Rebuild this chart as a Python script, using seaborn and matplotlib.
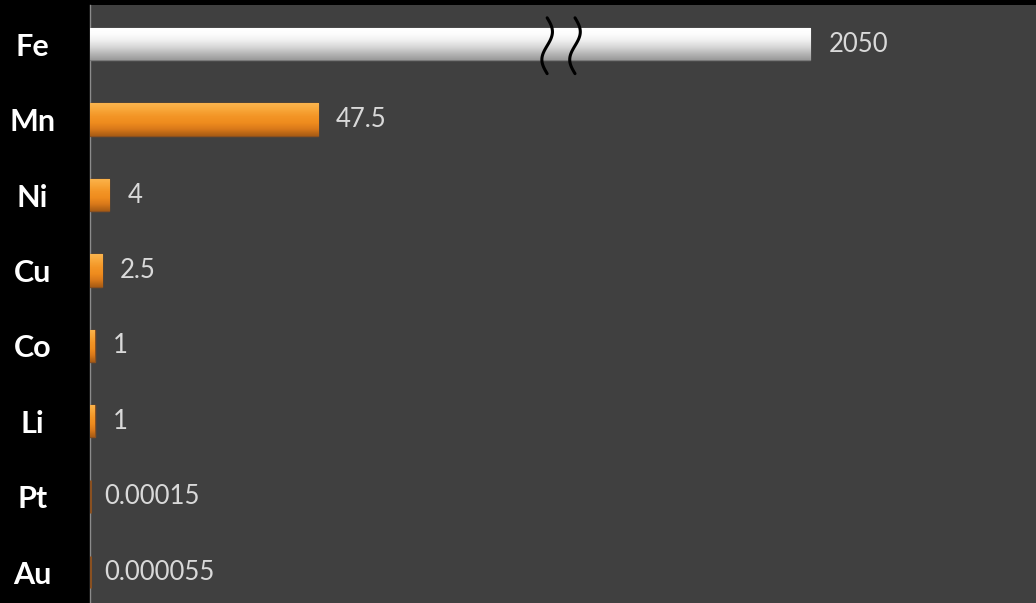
import numpy as np
import pandas as pd
import matplotlib
matplotlib.use("Agg")
import matplotlib.pyplot as plt
import seaborn as sns
from matplotlib.colors import LinearSegmentedColormap

# ---- data ----
elements = ["Fe", "Mn", "Ni", "Cu", "Co", "Li", "Pt", "Au"]
values = [2050, 47.5, 4, 2.5, 1, 1, 0.00015, 0.000055]
value_labels = ["2050", "47.5", "4", "2.5", "1", "1", "0.00015", "0.000055"]

# ---- style ----
BREAK_CAP = 150          # Fe bar is drawn with an axis break
XMAX = 197
BG = "#404040"
sns.set_theme(style="white")
plt.rcParams["font.family"] = ["Lato", "DejaVu Sans"]

disp = [min(v, BREAK_CAP) for v in values]
df = pd.DataFrame({"element": elements, "display": disp})
palette = {e: ("#f2f2f2" if e == "Fe" else "#f39323") for e in elements}

fig = plt.figure(figsize=(10.36, 6.03), dpi=100, facecolor="black")
ax = fig.add_axes([90 / 1036, 0, 1 - 90 / 1036, 598 / 603])
ax.set_facecolor(BG)

sns.barplot(data=df, y="element", x="display", hue="element", palette=palette,
            orient="h", width=0.43, legend=False, ax=ax, saturation=1)

# gradient fills
white_grad = ["#ffffff", "#fdfdfd", "#f0f0f0", "#d8d8d8", "#b8b8b8", "#9a9a9a"]
orange_grad = ["#fbb44e", "#f8a638", "#f39526", "#ef8c1e", "#d8781a", "#a85c14"]
for el, patch in zip(elements, ax.patches):
    x0, y0 = patch.get_x(), patch.get_y()
    w, h = patch.get_width(), patch.get_height()
    if el == "Fe":
        cols = white_grad
        patch.set_edgecolor("#7a7a7a")
        patch.set_linewidth(1.0)
    else:
        cols = orange_grad
        patch.set_edgecolor("#8a5020")
        patch.set_linewidth(1.0 if w > 0.1 else 2.2)
    patch.set_zorder(3)
    if w > 0.1:
        cmap = LinearSegmentedColormap.from_list("g", cols)
        grad = np.linspace(0, 1, 64).reshape(-1, 1)
        im = ax.imshow(grad, cmap=cmap, aspect="auto", origin="upper",
                       extent=(x0, x0 + w, y0 + h, y0), interpolation="bicubic",
                       zorder=3.1)
        im.set_clip_path(patch)

# value labels
for i, (d, lab) in enumerate(zip(disp, value_labels)):
    off = 13 if d > 0.1 else 10
    ax.annotate(lab, xy=(d, i), xytext=(off, 0), textcoords="offset points",
                ha="left", va="center", fontsize=18.5, color="#d9d9d9")

# axis break marks on Fe bar
t = np.linspace(0, 1, 100)
yy = -0.35 + 0.74 * t
for xb in (95.2, 101.0):
    ax.plot(xb + 1.1 * np.sin(2 * np.pi * t), yy, color="black", lw=2.2,
            zorder=10, solid_capstyle="round")

ax.set_xlim(0, XMAX)
ax.set_ylim(7.41, -0.52)
ax.set_xlabel("")
ax.set_ylabel("")
ax.set_xticks([])
ax.tick_params(axis="y", length=0, pad=41.5)
for lab in ax.get_yticklabels():
    lab.set_horizontalalignment("center")
    lab.set_fontweight("bold")
    lab.set_fontsize(22)
    lab.set_color("white")
for s in ("top", "right", "bottom"):
    ax.spines[s].set_visible(False)
ax.spines["left"].set_color("#8c8c8c")
ax.spines["left"].set_linewidth(1.0)
ax.spines["left"].set_zorder(2)

fig.savefig("out.png", dpi=100, facecolor="black")
